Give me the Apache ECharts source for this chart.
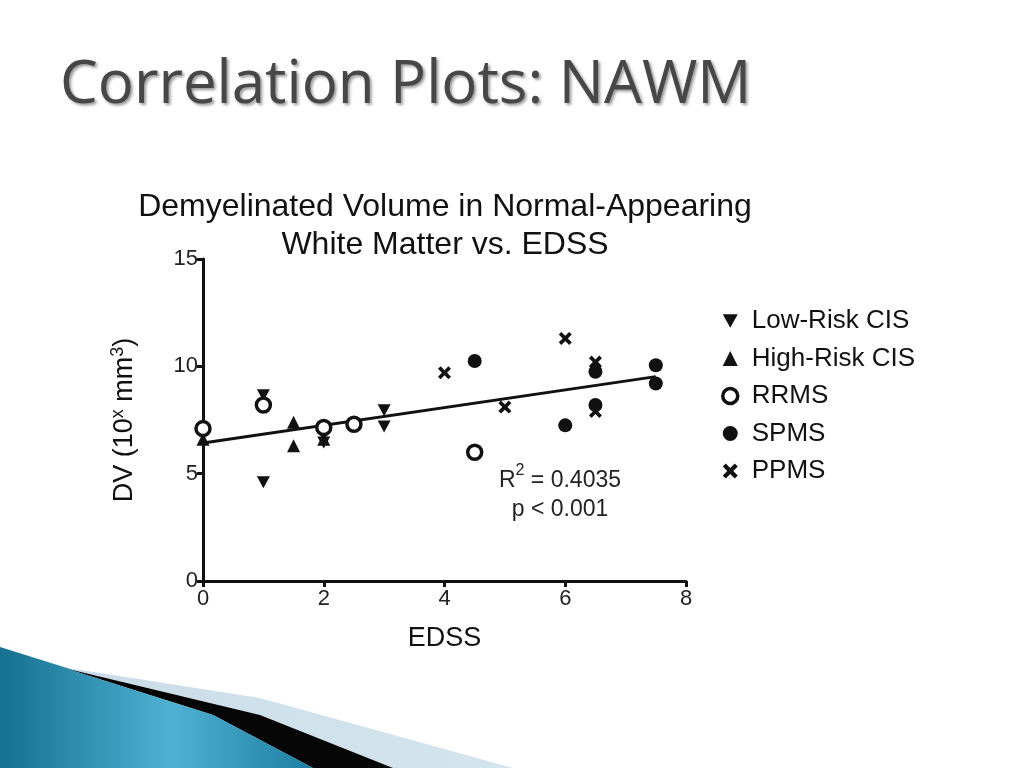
<!DOCTYPE html>
<html>
<head>
<meta charset="utf-8">
<script src="https://cdn.jsdelivr.net/npm/echarts@6/dist/echarts.min.js"></script>
<style>
  html, body { margin: 0; padding: 0; background: #fff; }
  #main { width: 1024px; height: 768px; }
</style>
</head>
<body>
<div id="main"></div>
<script>
// ---- data (EDSS, DV) ----
const lowRiskCIS  = [[1, 8.65], [1, 4.6], [2, 6.8], [2, 6.45], [3, 7.95], [3, 7.2]];
const highRiskCIS = [[0, 6.6], [1.5, 7.4], [1.5, 6.3], [2, 6.6]];
const rrms        = [[0, 7.1], [1, 8.2], [2, 7.15], [2.5, 7.3], [4.5, 6.0]];
const spms        = [[4.5, 10.25], [6, 7.25], [6.5, 9.75], [6.5, 8.2], [7.5, 10.05], [7.5, 9.2]];
const ppms        = [[4, 9.7], [5, 8.1], [6, 11.3], [6.5, 10.2], [6.5, 7.9]];
const fitLine     = [[0, 6.43], [7.5, 9.52]];
const xTicks      = [0, 2, 4, 6, 8];
const yTicks      = [0, 5, 10, 15];

const font = '"Liberation Sans", Arial, sans-serif';
const ink = '#111';
const xMark = 'path://M2,0 L5,3 L8,0 L10,2 L7,5 L10,8 L8,10 L5,7 L2,10 L0,8 L3,5 L0,2 Z';
const downTri = 'path://M0,0 L10,0 L5,9 Z';

var chart = echarts.init(document.getElementById('main'));

option = {
    backgroundColor: '#fff',
    animation: false,
    grid: {
        left: 203,
        right: 338,
        top: 259,
        bottom: 187
    },
    legend: {
        orient: 'vertical',
        left: 716,
        top: 303,
        itemGap: 11.5,
        itemWidth: 15,
        itemHeight: 15,
        textStyle: { fontFamily: font, fontSize: 26, color: ink, padding: [0, 0, 0, 9] },
        data: [
            { name: 'Low-Risk CIS' },
            { name: 'High-Risk CIS' },
            { name: 'RRMS', itemStyle: { color: '#fff', borderColor: ink, borderWidth: 3.5 } },
            { name: 'SPMS' },
            { name: 'PPMS' }
        ]
    },
    xAxis: {
        type: 'value',
        min: xTicks[0],
        max: xTicks[xTicks.length - 1],
        interval: 2,
        name: 'EDSS',
        nameLocation: 'middle',
        nameGap: 44,
        nameTextStyle: { fontFamily: font, fontSize: 27, color: ink },
        axisLine: { lineStyle: { color: ink, width: 3 } },
        axisTick: { show: true, length: 6, lineStyle: { color: ink, width: 3 } },
        axisLabel: { fontFamily: font, fontSize: 22, color: '#222', margin: 7 },
        splitLine: { show: false }
    },
    yAxis: {
        type: 'value',
        min: yTicks[0],
        max: yTicks[yTicks.length - 1],
        interval: 5,
        name: 'DV (10{sup|x} mm{sup|3})',
        nameLocation: 'middle',
        nameGap: 62,
        nameRotate: 90,
        nameTextStyle: {
            fontFamily: font, fontSize: 27, color: ink, lineHeight: 32, verticalAlign: 'bottom',
            rich: {
                sup: { fontFamily: font, fontSize: 18, color: ink, verticalAlign: 'top', padding: [0, 0, 12, 0] }
            }
        },
        axisLine: { show: true, lineStyle: { color: ink, width: 3 } },
        axisTick: { show: true, length: 6, lineStyle: { color: ink, width: 3 } },
        axisLabel: { fontFamily: font, fontSize: 22, color: '#222', margin: 5 },
        splitLine: { show: false }
    },
    series: [
        {
            name: 'Fit',
            type: 'line',
            data: fitLine,
            symbol: 'none',
            lineStyle: { color: ink, width: 3 },
            z: 1
        },
        {
            name: 'Low-Risk CIS',
            type: 'scatter',
            data: lowRiskCIS,
            symbol: downTri,
            symbolSize: [13, 12],
            itemStyle: { color: ink, opacity: 1 }
        },
        {
            name: 'High-Risk CIS',
            type: 'scatter',
            data: highRiskCIS,
            symbol: 'triangle',
            symbolSize: 13,
            itemStyle: { color: ink, opacity: 1 }
        },
        {
            name: 'RRMS',
            type: 'scatter',
            data: rrms,
            symbol: 'circle',
            symbolSize: 14,
            itemStyle: { color: '#fff', borderColor: ink, borderWidth: 3.5, opacity: 1 }
        },
        {
            name: 'SPMS',
            type: 'scatter',
            data: spms,
            symbol: 'circle',
            symbolSize: 14,
            itemStyle: { color: ink, opacity: 1 }
        },
        {
            name: 'PPMS',
            type: 'scatter',
            data: ppms,
            symbol: xMark,
            symbolSize: 13,
            itemStyle: { color: ink, opacity: 1 }
        }
    ],
    graphic: [
        // slide title
        {
            type: 'text',
            left: 60,
            top: 56,
            style: {
                text: 'Correlation Plots: NAWM',
                font: '60px "Open Sans", "Noto Sans", sans-serif',
                fill: '#474747',
                textShadowColor: 'rgba(0,0,0,0.4)',
                textShadowBlur: 3,
                textShadowOffsetX: 2,
                textShadowOffsetY: 2
            }
        },
        // chart title
        {
            type: 'text',
            x: 445,
            y: 188,
            style: {
                text: 'Demyelinated Volume in Normal-Appearing\nWhite Matter vs. EDSS',
                font: '32px "Liberation Sans", Arial, sans-serif',
                fill: ink,
                align: 'center',
                lineHeight: 38
            }
        },
        // fit statistics
        {
            type: 'text',
            x: 560,
            y: 463,
            style: {
                text: '{b|R}{s|2}{b| = 0.4035}\n{b|p < 0.001}',
                align: 'center',
                rich: {
                    b: { font: '23px "Liberation Sans", Arial, sans-serif', fill: '#222', lineHeight: 29, verticalAlign: 'bottom' },
                    s: { font: '16px "Liberation Sans", Arial, sans-serif', fill: '#222', lineHeight: 29, verticalAlign: 'top', padding: [0, 0, 10, 0] }
                }
            }
        },
        // bottom-left decoration
        {
            type: 'polygon',
            shape: { points: [[1024, 768], [513, 768], [260, 698], [100, 673], [60, 667], [260, 715], [393, 768]] },
            style: {
                fill: new echarts.graphic.LinearGradient(0, 0, 1, 0, [
                    { offset: 0, color: '#c9dde8' },
                    { offset: 1, color: '#e3eef4' }
                ])
            },
            silent: true
        },
        {
            type: 'polygon',
            shape: { points: [[60, 667], [260, 715], [393, 768], [313, 768], [213, 715], [77, 672]] },
            style: { fill: '#050505' },
            silent: true
        },
        {
            type: 'polygon',
            shape: { points: [[0, 647], [67, 668], [77, 672], [213, 715], [313, 768], [0, 768]] },
            style: {
                fill: new echarts.graphic.LinearGradient(0, 0, 1, 0, [
                    { offset: 0, color: '#16708f' },
                    { offset: 0.55, color: '#4fb1d3' },
                    { offset: 1, color: '#1c7ea0' }
                ])
            },
            silent: true
        }
    ]
};
chart.setOption(option);
</script>
</body>
</html>
